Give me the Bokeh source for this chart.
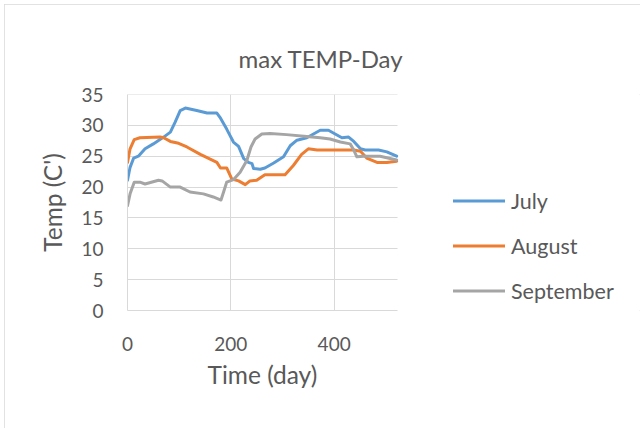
from bokeh.plotting import figure
from bokeh.models import FixedTicker, Legend, LegendItem, Range1d, Title
from bokeh.embed import file_html
from bokeh.resources import INLINE

july_x = [0, 5, 12, 21, 34, 50, 70, 83, 92, 102, 112, 134, 154, 173, 179, 192, 205, 215, 225, 234, 241, 244, 257, 266, 283, 302, 315, 328, 347, 360, 373, 389, 402, 415, 428, 438, 451, 460, 486, 502, 521]
july_y = [21.1, 23.2, 24.7, 25.0, 26.2, 27.0, 28.1, 28.9, 30.5, 32.4, 32.8, 32.4, 32.0, 32.0, 31.3, 29.4, 27.3, 26.6, 24.6, 24.0, 23.8, 23.0, 22.9, 23.1, 23.9, 24.9, 26.7, 27.6, 28.0, 28.6, 29.2, 29.2, 28.6, 28.0, 28.1, 27.4, 26.2, 26.0, 26.0, 25.7, 25.0]

aug_x = [0, 5, 13, 24, 63, 70, 83, 99, 115, 141, 173, 180, 192, 202, 215, 228, 237, 250, 266, 283, 305, 321, 337, 350, 367, 438, 451, 463, 483, 502, 521]
aug_y = [24.0, 26.2, 27.7, 28.0, 28.1, 28.0, 27.4, 27.1, 26.5, 25.3, 24.0, 23.1, 23.1, 21.3, 21.0, 20.4, 21.0, 21.1, 22.0, 22.0, 22.0, 23.5, 25.3, 26.2, 26.0, 26.0, 25.8, 24.7, 24.0, 24.0, 24.2]

sep_x = [0, 5, 13, 24, 34, 60, 67, 83, 102, 121, 147, 166, 181, 186, 192, 205, 218, 231, 239, 247, 260, 276, 308, 347, 373, 392, 412, 431, 438, 444, 457, 489, 521]
sep_y = [17.0, 18.9, 20.8, 20.8, 20.5, 21.1, 21.0, 20.0, 20.0, 19.2, 18.9, 18.4, 17.9, 19.2, 20.8, 21.2, 22.4, 24.3, 26.5, 27.8, 28.6, 28.7, 28.5, 28.2, 28.0, 27.8, 27.3, 27.0, 26.0, 24.9, 25.0, 25.0, 24.4]

x_ticks = [0, 200, 400]
y_ticks = [0, 5, 10, 15, 20, 25, 30, 35]
x_axis_end = 522
series_names = ["July", "August", "September"]
colors = ["#5B9BD5", "#ED7D31", "#A5A5A5"]

FONT = "Lato"
TXT = "#595959"
GRID = "#d9d9d9"

# frame spans to the right edge so that the legend (drawn inside the frame) is not clipped
p = figure(width=636, height=424, output_backend="svg", toolbar_location=None,
           x_range=Range1d(0, 993), y_range=Range1d(0, 35.002),
           min_border_left=123, min_border_right=0, min_border_top=90, min_border_bottom=118)
p.styles = {"margin-left": "4px", "margin-top": "4px"}
p.stylesheets = [":host { outline: 1px solid #d9d9d9; outline-offset: -1px; }"]

p.title.text = "max TEMP-Day"
p.title.align = "left"
p.title.offset = 111
p.title.standoff = 43
p.title.text_font = FONT
p.title.text_font_size = "24px"
p.title.text_font_style = "normal"
p.title.text_color = TXT

p.outline_line_color = None
p.background_fill_color = "white"
p.border_fill_color = "white"

for ax in (p.xaxis[0], p.yaxis[0]):
    ax.axis_line_color = GRID
    ax.major_tick_line_color = None
    ax.minor_tick_line_color = None
    ax.major_label_text_font = FONT
    ax.major_label_text_font_size = "19px"
    ax.major_label_text_color = TXT
    ax.axis_label_text_font = FONT
    ax.axis_label_text_font_size = "24.5px"
    ax.axis_label_text_font_style = "normal"
    ax.axis_label_text_color = TXT

p.xaxis.bounds = (0, x_axis_end)
p.xaxis.ticker = FixedTicker(ticks=x_ticks)
p.yaxis.ticker = FixedTicker(ticks=y_ticks)
p.yaxis.axis_label = "Temp (C')"
p.xaxis.major_label_standoff = 20
p.yaxis.major_label_standoff = 18
p.yaxis.axis_label_standoff = 11

# x-axis title centred under the bounded axis (not the wider frame)
x_title = Title(text="Time (day)", align="left", offset=80, standoff=9,
                text_font=FONT, text_font_size="24.5px", text_font_style="normal",
                text_color=TXT)
p.add_layout(x_title, "below")

p.xgrid.grid_line_color = GRID
p.ygrid.grid_line_color = GRID
p.xgrid.ticker = FixedTicker(ticks=x_ticks)
p.ygrid.ticker = FixedTicker(ticks=y_ticks)
p.ygrid.cross_bounds = (0, x_axis_end)

items = []
for name, xs, ys, c in zip(series_names, [july_x, aug_x, sep_x], [july_y, aug_y, sep_y], colors):
    r = p.line(xs, ys, line_color=c, line_width=3, line_join="round", line_cap="round")
    items.append(LegendItem(label=name, renderers=[r]))

legend = Legend(items=items, location=(326, 6), orientation="vertical",
                glyph_width=52, glyph_height=27, label_height=27, spacing=18,
                label_standoff=6, padding=0, margin=0,
                label_text_font=FONT, label_text_font_size="21.5px", label_text_color=TXT,
                border_line_color=None, background_fill_alpha=0)
p.add_layout(legend, "center")

open("out.html", "w").write(file_html(p, INLINE))
